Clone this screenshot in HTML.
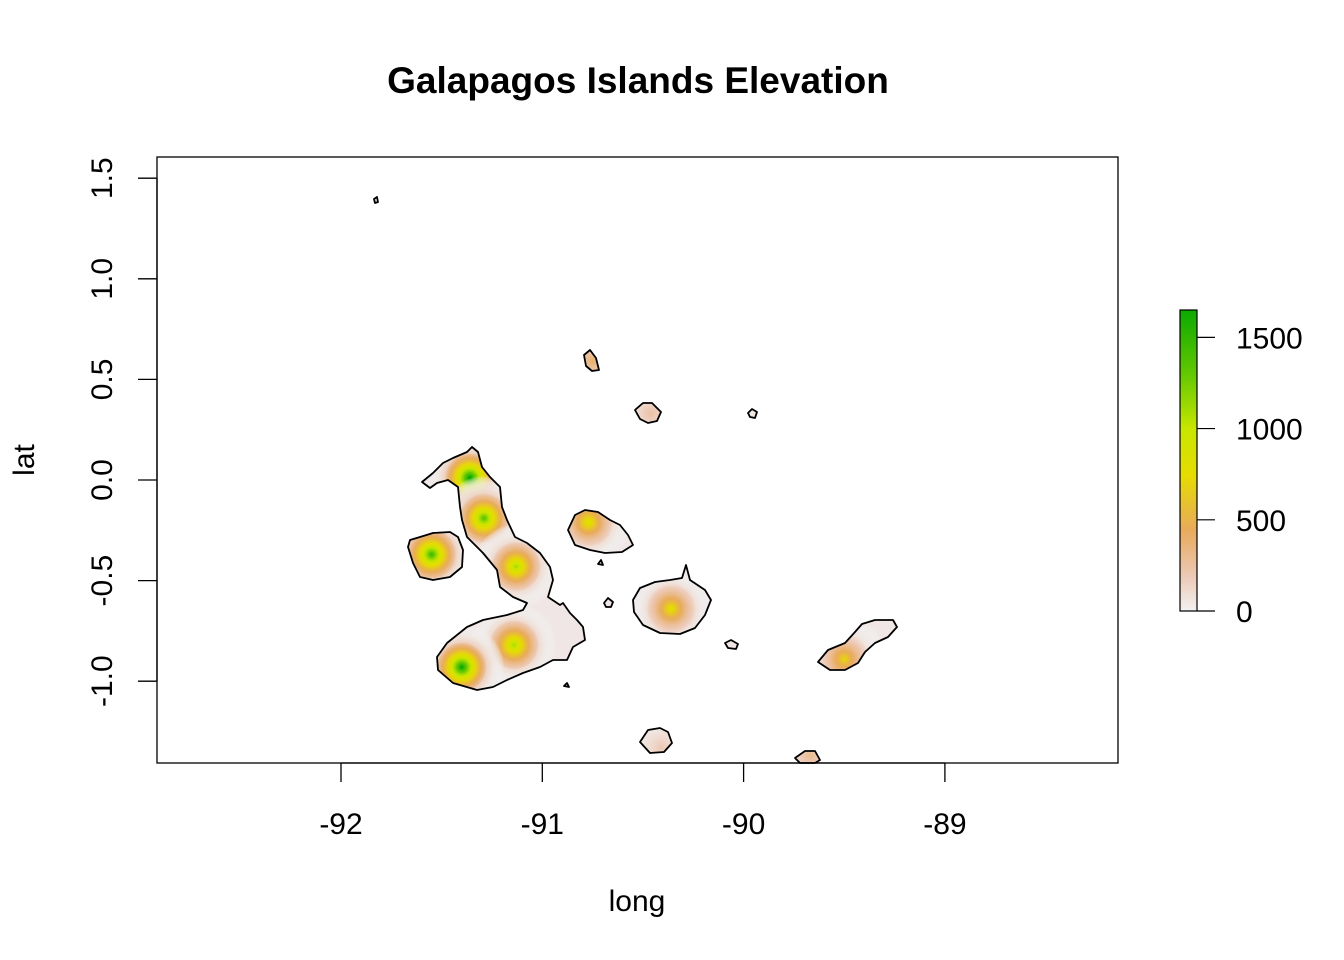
<!DOCTYPE html>
<html><head><meta charset="utf-8">
<style>
body{margin:0;background:#fff;}
svg{display:block;font-family:"Liberation Sans",Arial,sans-serif;}
</style></head>
<body>
<svg id="chart" width="1344" height="960" viewBox="0 0 1344 960">
  <text x="638" y="93" text-anchor="middle" font-size="37" font-weight="bold">Galapagos Islands Elevation</text>
  <defs id="defs"></defs>
  <g id="islands"></g>
  <rect x="157" y="157" width="961" height="606" fill="none" stroke="#000" stroke-width="1.3"/>
  <g id="axes"></g>
  <text x="637" y="911" text-anchor="middle" font-size="30">long</text>
  <text transform="translate(34,460) rotate(-90)" text-anchor="middle" font-size="30">lat</text>
  <g id="legend"></g>
</svg>
<script>
const xTicks=[-92,-91,-90,-89];
const yTicks=[-1.0,-0.5,0.0,0.5,1.0,1.5];
const peakNames=["wolf","darwin","alcedo","sierra-negra","cerro-azul","fernandina","santiago","santa-cruz","san-cristobal","pinta","marchena","espanola","floreana","genovesa"];
const peakLong=[-91.36,-91.29,-91.13,-91.14,-91.40,-91.55,-90.77,-90.36,-89.50,-90.75,-90.46,-90.41,-89.67,-89.95];
const peakLat=[0.01,-0.19,-0.43,-0.82,-0.93,-0.37,-0.21,-0.64,-0.89,0.59,0.33,-1.33,-1.37,0.32];
const peakElev=[1700,1350,1100,1100,1650,1450,850,800,700,400,250,200,300,60];
const legendTicks=[0,500,1000,1500];
const zMax=1650;

const NS="http://www.w3.org/2000/svg";
const x=v=>341+(v+92)*201.3;
const y=v=>480-v*201.2;
const ly=v=>611-v*(301/zMax);
function mk(t,a,p){const e=document.createElementNS(NS,t);for(const k in a)e.setAttribute(k,a[k]);(p||svg).appendChild(e);return e;}
const svg=document.getElementById('chart');
const stops=[[0,[242,242,242]],[200,[236,200,180]],[450,[232,170,90]],[750,[230,220,0]],[1000,[200,230,0]],[1300,[100,200,0]],[1700,[0,166,0]]];
function col(z){z=Math.max(0,Math.min(1700,z));for(let i=1;i<stops.length;i++){if(z<=stops[i][0]){const a=stops[i-1],b=stops[i],t=(z-a[0])/(b[0]-a[0]);return 'rgb('+a[1].map((c,j)=>Math.round(c+(b[1][j]-c)*t)).join(',')+')';}}return 'rgb(0,166,0)';}

const outlines={
 "isabela":"M422,482 L433,473 443,463 453,458 467,452 472,447 478,452 482,467 490,477 500,487 502,507 507,520 515,537 527,543 540,553 550,567 553,580 548,597 560,605 563,603 570,613 577,620 583,627 585,640 573,647 567,660 553,660 540,667 523,673 507,680 493,687 477,690 453,683 438,670 437,657 447,643 467,627 483,620 507,615 523,610 527,603 513,597 500,587 497,570 483,553 467,537 462,520 460,507 458,487 448,480 437,483 430,488 Z",
 "fernandina":"M410,540 L420,537 433,533 450,532 458,537 463,550 462,567 450,577 433,580 420,577 413,563 408,547 Z",
 "santiago":"M568,530 L575,515 585,510 598,512 610,520 620,525 628,535 633,545 622,552 605,553 590,550 575,545 Z",
 "santa-cruz":"M633,600 L640,588 655,582 670,580 682,578 686,565 690,580 705,590 711,600 705,615 695,628 680,634 660,633 643,625 634,612 Z",
 "san-cristobal":"M818,662 L828,650 845,643 855,632 862,624 875,620 893,620 897,627 888,637 875,643 865,652 858,663 845,670 830,670 Z",
 "pinta":"M584,355 L590,350 596,358 599,370 592,371 586,366 Z",
 "marchena":"M635,410 L643,403 652,403 661,412 657,421 648,423 640,419 Z",
 "espanola":"M640,742 L648,730 660,728 668,732 672,743 664,752 650,753 Z",
 "floreana":"M795,758 L805,751 815,751 820,760 815,763 800,763 Z",
 "genovesa":"M748,413 L752,409 757,412 755,418 750,417 Z",
 "pinzon":"M604,603 L608,598 613,602 611,607 606,607 Z",
 "rabida":"M598,564 L601,560 603,565 Z",
 "tortuga":"M564,686 L567,683 569,687 Z",
 "santa-fe":"M725,643 L731,640 738,644 736,649 728,648 Z",
 "darwin-isl":"M374,199 L377,197 378,202 375,203 Z"
};
const defs=document.getElementById('defs');
const g=document.getElementById('islands');
for(const nm in outlines){
  const cp=mk('clipPath',{id:'cp-'+nm},defs);
  mk('path',{d:outlines[nm]},cp);
  const fill=mk('path',{d:outlines[nm],fill:'#f1e6e6'},g);
  
  
}
const owner=["isabela","isabela","isabela","isabela","isabela","fernandina","santiago","santa-cruz","san-cristobal","pinta","marchena","espanola","floreana","genovesa"];
peakElev.forEach((z,i)=>{
  const pg=mk('g',{'clip-path':'url(#cp-'+owner[i]+')'},g);
  
  
  const R=42;
  const n=28;
  for(let k=n;k>=1;k--){
    const f=k/n, zz=z*Math.pow(1-(k-1)/n,2.2);
    mk('circle',{cx:x(peakLong[i]),cy:y(peakLat[i]),r:R*f,fill:col(zz),'fill-opacity':f>0.6?0.25:0.85},pg);
  }
});
for(const nm in outlines){
  const o=mk('path',{d:outlines[nm],fill:'none',stroke:'#000','stroke-width':1.8,'stroke-linejoin':'round'},g);
  
  
}
const ax=document.getElementById('axes');
mk('line',{x1:x(-92),x2:x(-89),y1:763,y2:763,stroke:'#000','stroke-width':1.3},ax);
xTicks.forEach(v=>{
  mk('line',{x1:x(v),x2:x(v),y1:763,y2:782,stroke:'#000','stroke-width':1.3},ax);
  const t=mk('text',{x:x(v),y:834,'text-anchor':'middle','font-size':30},ax);t.textContent=v;
  
  
});
mk('line',{x1:157,x2:157,y1:y(-1),y2:y(1.5),stroke:'#000','stroke-width':1.3},ax);
yTicks.forEach(v=>{
  mk('line',{x1:138,x2:157,y1:y(v),y2:y(v),stroke:'#000','stroke-width':1.3},ax);
  const t=mk('text',{transform:'translate(112,'+y(v)+') rotate(-90)','text-anchor':'middle','font-size':30},ax);t.textContent=v.toFixed(1);
  
  
});
const lg=document.getElementById('legend');
for(let z=0;z<zMax;z+=10){
  mk('rect',{x:1180,y:ly(z+10),width:17,height:ly(z)-ly(z+10)+0.6,fill:col(z+5)},lg);
}
mk('rect',{x:1180,y:ly(zMax),width:17,height:ly(0)-ly(zMax),fill:'none',stroke:'#000','stroke-width':1.2},lg);
legendTicks.forEach(v=>{
  mk('line',{x1:1197,x2:1215,y1:ly(v),y2:ly(v),stroke:'#000','stroke-width':1.2},lg);
  const t=mk('text',{x:1236,y:ly(v)+11,'font-size':30},lg);t.textContent=v;
  
  
});
</script>
</body></html>
